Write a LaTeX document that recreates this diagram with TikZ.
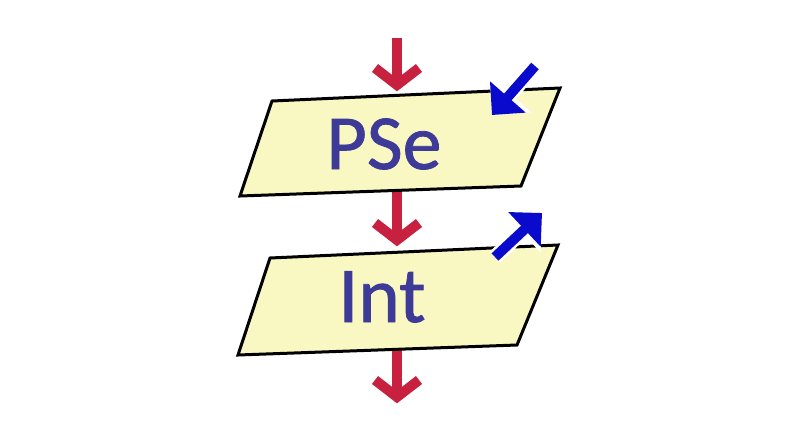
\documentclass[tikz,border=0pt]{standalone}
\usepackage{fontspec}
\setmainfont{Carlito}
\newfontfamily\lblfont[FakeBold=1]{Carlito}
\usetikzlibrary{arrows.meta}
\definecolor{flowred}{HTML}{C8203F}
\definecolor{flowblue}{HTML}{0A0ACC}
\definecolor{boxfill}{HTML}{FAF8C2}
\definecolor{txtblue}{HTML}{3E3B98}
\begin{document}
\begin{tikzpicture}[x=1pt,y=-1pt,
  redshaft/.style={draw=flowred,line width=10pt},
  redhead/.style={draw=flowred,line width=10pt,line join=miter},
  io/.style={draw=black,line width=3pt,fill=boxfill,line join=miter},
  bluearrow/.style={draw=flowblue,line width=10pt,-{Triangle[length=24pt,width=46pt]},fill=flowblue,
     preaction={draw=white,line width=15pt,-{Triangle[length=28pt,width=54pt]}}},
  lbl/.style={text=txtblue,inner sep=0pt,anchor=center}]
\useasboundingbox (0,0) rectangle (800,440);
\fill[white] (0,0) rectangle (800,440);
% coordinates
\coordinate (a1s) at (397,38);
\coordinate (a1t) at (397,85);
\coordinate (a2s) at (397,185);
\coordinate (a2t) at (397,240);
\coordinate (a3s) at (397,345);
\coordinate (a3t) at (397,397);
% red arrows
\draw[redshaft] (a1s) -- (a1t);
\draw[redhead] ([xshift=-22pt,yshift=17pt]a1t) -- (a1t) -- ([xshift=22pt,yshift=17pt]a1t);
\draw[redshaft] (a2s) -- (a2t);
\draw[redhead] ([xshift=-22pt,yshift=17pt]a2t) -- (a2t) -- ([xshift=22pt,yshift=17pt]a2t);
\draw[redshaft] (a3s) -- (a3t);
\draw[redhead] ([xshift=-22pt,yshift=17pt]a3t) -- (a3t) -- ([xshift=22pt,yshift=17pt]a3t);
% parallelograms
\draw[io] (272,101) -- (560,88) -- (521,186) -- (240,196) -- cycle;
\draw[io] (270,258) -- (558,245) -- (517,345) -- (238,355) -- cycle;
\node[lbl,font=\lblfont\fontsize{78}{78}\selectfont] (pse) at (384,144) {PSe};
\node[lbl,font=\lblfont\fontsize{79}{79}\selectfont] (int) at (382,297) {Int};
% blue arrows
\coordinate (b1s) at (535,66);
\coordinate (b1t) at (492,115);
\coordinate (b2s) at (495,257);
\coordinate (b2t) at (542,213);
\draw[bluearrow] (b1s) -- (b1t);
\draw[bluearrow] (b2s) -- (b2t);
\end{tikzpicture}
\end{document}
